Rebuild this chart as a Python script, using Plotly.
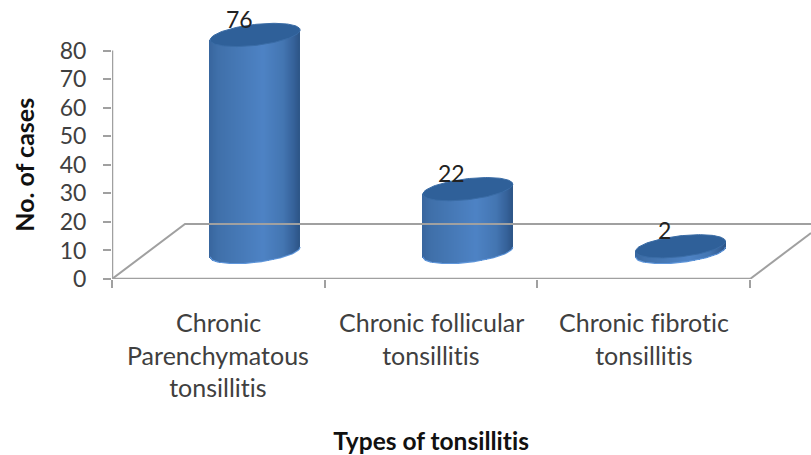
import numpy as np
import plotly.graph_objects as go

category_lines = [
    ["Chronic", "Parenchymatous", "tonsillitis"],
    ["Chronic follicular", "tonsillitis"],
    ["Chronic fibrotic", "tonsillitis"],
]
cases = [76, 22, 2]
y_ticks = [0, 10, 20, 30, 40, 50, 60, 70, 80]
x_title = "Types of tonsillitis"
y_title = "No. of cases"

FONT = "Lato, Carlito, sans-serif"
TEXT = "#404040"
AXIS = "#a0a0a0"
PXX = 638 / 3      # px per x unit
PXY = 228.5 / 80   # px per y unit
TOP, BOTTOM = 5, 176
x_max = 3 + 61 / PXX
y_max = (455 - BOTTOM - TOP) / PXY

# oblique-projection geometry in data units
depth_x, depth_y = 73 / PXX, 55 / PXY
cyl_offset = 0.673
cyl_base = (279 - 252) / PXY
half_w = 45 / PXX
minor = 10.5 / PXY
shear = 0.11 * half_w * PXX / PXY

stops_u = [-1.0, -0.8, -0.5, 0.2, 0.65, 0.88, 1.0]
stops_c = [(56, 102, 158), (64, 112, 170), (68, 118, 178), (78, 131, 197),
           (68, 118, 178), (54, 98, 154), (46, 86, 136)]


def shade(u):
    return "rgb({},{},{})".format(*[int(np.interp(u, stops_u, [c[i] for c in stops_c])) for i in range(3)])


fig = go.Figure()

# floor and the axis lines, which stop short of the plot area
fig.add_trace(go.Scatter(
    x=[0, depth_x, x_max, None, 3, x_max],
    y=[0, depth_y, depth_y, None, 0, 46 / PXY],
    mode="lines", line=dict(color=AXIS, width=2), cliponaxis=False, hoverinfo="skip", showlegend=False))
fig.add_trace(go.Scatter(
    x=[0, 0, None, 0, 3], y=[0, 80, None, 0, 0],
    mode="lines", line=dict(color=AXIS, width=2.5), cliponaxis=False, hoverinfo="skip", showlegend=False))

strip = 1.0 / PXX
for i, v in enumerate(cases):
    cx = i + cyl_offset
    n = int(2 * half_w / strip)
    u = (np.arange(n) + 0.5) / n * 2 - 1
    low = cyl_base + shear * u - minor * np.sqrt(1 - u ** 2)
    high = cyl_base + v + shear * u
    fig.add_trace(go.Bar(
        x=cx + half_w * u, y=high - low, base=low, width=strip * 1.5,
        marker=dict(color=[shade(t) for t in u], line=dict(width=0)),
        hoverinfo="skip", showlegend=False))
    # lower rim highlight
    t = np.linspace(-1, 1, 90)
    fig.add_trace(go.Scatter(
        x=cx + half_w * t, y=cyl_base + shear * t - minor * np.sqrt(1 - t ** 2),
        mode="lines", line=dict(color="#5f96da", width=1.2), hoverinfo="skip", showlegend=False))
    # top cap
    th = np.linspace(0, 2 * np.pi, 120)
    fig.add_trace(go.Scatter(
        x=cx + half_w * np.cos(th),
        y=cyl_base + v + shear * np.cos(th) + minor * np.sin(th),
        mode="lines", fill="toself", fillcolor="#2f6099", line=dict(color="#3a6ca6", width=1),
        hoverinfo="skip", showlegend=False))
    # value label
    fig.add_annotation(x=cx, y=cyl_base + v, xref="x", yref="y", text=str(v), showarrow=False,
                       xshift=-16, yshift=16, font=dict(family=FONT, size=23, color="#222222"))
    # category label, one line at a time for the wide line pitch
    for k, line in enumerate(category_lines[i]):
        fig.add_annotation(x=i + 0.5, y=0, xref="x", yref="y", text=line, showarrow=False,
                           yshift=-(43 + 32.5 * k), font=dict(family=FONT, size=25, color=TEXT))

fig.add_annotation(x=1.5, y=0, xref="x", yref="y", text="<b>%s</b>" % x_title, showarrow=False, yshift=-161,
                   font=dict(family=FONT, size=24.5, color="#111111"))
fig.add_annotation(x=0, y=40, xref="x", yref="y", text="<b>%s</b>" % y_title, showarrow=False, xshift=-88,
                   textangle=-90, font=dict(family=FONT, size=25, color="#111111"))

fig.update_layout(
    width=811, height=455,
    margin=dict(l=112, r=0, t=TOP, b=BOTTOM, pad=0),
    paper_bgcolor="white", plot_bgcolor="white",
    barmode="overlay", bargap=0, showlegend=False,
    xaxis=dict(range=[0, x_max], tickvals=[0, 1, 2, 3], ticktext=["", "", "", ""], ticks="outside", ticklen=8,
               tickcolor=AXIS, tickwidth=2, showline=False, showgrid=False, zeroline=False),
    yaxis=dict(range=[0, y_max], tickvals=y_ticks, ticks="outside", ticklen=8, tickcolor=AXIS, tickwidth=2,
               showline=False, showgrid=False, zeroline=False, ticklabelstandoff=12,
               tickfont=dict(family=FONT, size=23, color=TEXT)),
)
fig.write_html("out.html", config={"displayModeBar": False}, post_script=(
    "document.body.style.margin='0';"
    "document.head.insertAdjacentHTML('beforeend',"
    "'<style>text{font-variant-ligatures:none!important;font-feature-settings:\"liga\" 0,\"clig\" 0!important}</style>');"))
